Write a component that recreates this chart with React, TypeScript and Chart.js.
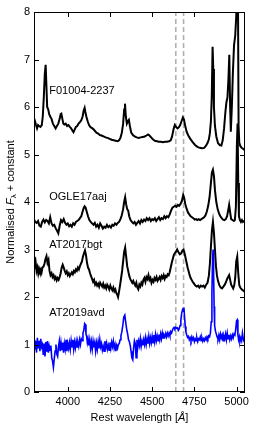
import React, { useEffect, useRef } from "react";
import { Chart, registerables } from "chart.js";

Chart.register(...registerables);

const FONT = '"Liberation Sans", Arial, Helvetica, sans-serif';

const X_MIN = 3800;
const X_MAX = 5050;
const Y_MIN = 0;
const Y_MAX = 8;
const xTicks = [4000, 4250, 4500, 4750, 5000];
const yTicks = [0, 1, 2, 3, 4, 5, 6, 7, 8];
const markerLines = [4640, 4686];

// F01004-2237
const wlF = [3800, 3806, 3812, 3818, 3824, 3830, 3838, 3846, 3852, 3858, 3864, 3869, 3874, 3878, 3884, 3890, 3896, 3904, 3912, 3920, 3928, 3936, 3944, 3952, 3958, 3962, 3968, 3974, 3980, 3988, 3996, 4004, 4012, 4020, 4028, 4034, 4040, 4048, 4056, 4064, 4072, 4080, 4088, 4094, 4100, 4104, 4110, 4118, 4126, 4134, 4142, 4150, 4160, 4170, 4180, 4190, 4200, 4212, 4224, 4236, 4248, 4260, 4272, 4284, 4296, 4304, 4312, 4320, 4328, 4334, 4339, 4344, 4350, 4356, 4362, 4368, 4376, 4386, 4396, 4408, 4420, 4432, 4444, 4456, 4466, 4476, 4484, 4494, 4504, 4516, 4528, 4540, 4552, 4564, 4576, 4588, 4600, 4610, 4618, 4626, 4634, 4642, 4650, 4658, 4666, 4674, 4682, 4688, 4696, 4704, 4714, 4726, 4740, 4754, 4768, 4782, 4796, 4808, 4818, 4828, 4836, 4842, 4848, 4853, 4858, 4862, 4866, 4872, 4880, 4890, 4900, 4910, 4918, 4926, 4934, 4940, 4946, 4952, 4957, 4962, 4966, 4972, 4978, 4985, 4992, 4998, 5004, 5008, 5012, 5016, 5022, 5030, 5038, 5045, 5050];
const fxF = [5.65, 5.70, 5.62, 5.55, 5.62, 5.60, 5.58, 5.62, 5.80, 6.20, 6.70, 6.89, 6.40, 6.00, 5.95, 5.85, 5.80, 5.75, 5.65, 5.60, 5.55, 5.60, 5.65, 5.75, 5.85, 5.86, 5.75, 5.65, 5.63, 5.65, 5.60, 5.62, 5.58, 5.55, 5.50, 5.47, 5.52, 5.58, 5.60, 5.65, 5.68, 5.72, 5.80, 5.92, 5.98, 5.90, 5.80, 5.70, 5.62, 5.58, 5.56, 5.54, 5.50, 5.46, 5.44, 5.41, 5.40, 5.38, 5.36, 5.35, 5.33, 5.31, 5.30, 5.29, 5.28, 5.30, 5.35, 5.45, 5.65, 5.95, 6.07, 5.80, 5.65, 5.70, 5.73, 5.60, 5.46, 5.41, 5.38, 5.36, 5.35, 5.36, 5.37, 5.38, 5.40, 5.42, 5.40, 5.36, 5.32, 5.29, 5.28, 5.27, 5.27, 5.26, 5.27, 5.27, 5.28, 5.30, 5.38, 5.52, 5.62, 5.58, 5.55, 5.57, 5.62, 5.70, 5.78, 5.74, 5.60, 5.48, 5.40, 5.33, 5.26, 5.20, 5.16, 5.14, 5.13, 5.14, 5.18, 5.24, 5.32, 5.45, 5.70, 6.20, 7.27, 6.80, 6.00, 5.60, 5.38, 5.24, 5.20, 5.19, 5.30, 5.55, 5.90, 6.10, 6.20, 6.60, 7.10, 6.00, 5.48, 6.00, 6.70, 7.30, 7.50, 7.90, 8.80, 8.60, 5.60, 5.25, 5.18, 5.14, 5.12, 5.10, 5.10];

// OGLE17aaj
const wlO = [3800, 3808, 3816, 3824, 3832, 3840, 3848, 3856, 3864, 3872, 3880, 3888, 3896, 3904, 3912, 3920, 3928, 3936, 3944, 3952, 3960, 3968, 3976, 3984, 3992, 4000, 4008, 4016, 4024, 4032, 4040, 4048, 4056, 4064, 4072, 4080, 4088, 4094, 4100, 4106, 4112, 4120, 4128, 4136, 4144, 4152, 4160, 4168, 4176, 4184, 4192, 4200, 4208, 4216, 4224, 4232, 4240, 4248, 4256, 4264, 4272, 4280, 4288, 4296, 4304, 4312, 4320, 4328, 4334, 4340, 4346, 4352, 4358, 4364, 4372, 4380, 4388, 4396, 4404, 4412, 4420, 4428, 4436, 4444, 4452, 4460, 4468, 4476, 4484, 4492, 4500, 4508, 4516, 4524, 4532, 4540, 4548, 4556, 4564, 4572, 4580, 4588, 4596, 4604, 4612, 4620, 4628, 4636, 4644, 4652, 4660, 4668, 4676, 4684, 4690, 4696, 4704, 4712, 4720, 4728, 4736, 4744, 4752, 4760, 4768, 4776, 4784, 4792, 4800, 4808, 4816, 4824, 4832, 4840, 4848, 4854, 4860, 4866, 4872, 4880, 4888, 4896, 4904, 4912, 4920, 4928, 4936, 4944, 4950, 4956, 4962, 4968, 4976, 4984, 4990, 4996, 5002, 5006, 5010, 5014, 5020, 5026, 5032, 5038, 5045, 5050];
const fxO = [3.63, 3.58, 3.56, 3.60, 3.50, 3.48, 3.58, 3.63, 3.57, 3.62, 3.60, 3.55, 3.68, 3.55, 3.50, 3.52, 3.45, 3.40, 3.34, 3.50, 3.62, 3.58, 3.64, 3.56, 3.52, 3.55, 3.49, 3.52, 3.48, 3.55, 3.52, 3.58, 3.60, 3.62, 3.66, 3.70, 3.80, 3.87, 3.91, 3.88, 3.80, 3.70, 3.62, 3.58, 3.55, 3.52, 3.56, 3.48, 3.52, 3.46, 3.55, 3.50, 3.44, 3.48, 3.46, 3.52, 3.47, 3.50, 3.46, 3.52, 3.50, 3.55, 3.52, 3.56, 3.58, 3.64, 3.72, 3.85, 4.00, 4.10, 3.95, 3.85, 3.82, 3.70, 3.62, 3.58, 3.55, 3.58, 3.52, 3.56, 3.60, 3.55, 3.62, 3.58, 3.63, 3.60, 3.66, 3.62, 3.66, 3.60, 3.64, 3.62, 3.66, 3.60, 3.64, 3.68, 3.62, 3.66, 3.64, 3.70, 3.66, 3.70, 3.68, 3.74, 3.82, 3.88, 3.90, 3.92, 3.90, 3.94, 3.92, 3.96, 4.02, 4.15, 4.08, 3.96, 3.86, 3.78, 3.74, 3.70, 3.68, 3.66, 3.63, 3.64, 3.62, 3.64, 3.62, 3.64, 3.66, 3.68, 3.72, 3.80, 3.92, 4.10, 4.40, 4.62, 4.68, 4.55, 4.25, 4.00, 3.85, 3.76, 3.70, 3.66, 3.63, 3.62, 3.64, 3.70, 3.82, 3.94, 3.78, 3.64, 3.62, 3.60, 3.62, 3.90, 5.20, 5.65, 4.40, 3.70, 3.62, 3.58, 3.62, 3.58, 3.60, 3.60];

// AT2017bgt
const wlA = [3800, 3805, 3810, 3815, 3820, 3825, 3830, 3835, 3840, 3845, 3850, 3856, 3862, 3868, 3874, 3880, 3886, 3892, 3898, 3904, 3910, 3916, 3922, 3928, 3934, 3940, 3946, 3952, 3958, 3964, 3970, 3976, 3982, 3988, 3994, 4000, 4006, 4012, 4018, 4024, 4030, 4036, 4042, 4048, 4054, 4060, 4066, 4072, 4078, 4084, 4090, 4096, 4102, 4108, 4114, 4120, 4126, 4132, 4138, 4144, 4150, 4156, 4162, 4168, 4174, 4180, 4186, 4192, 4198, 4204, 4210, 4216, 4222, 4228, 4234, 4240, 4246, 4252, 4258, 4264, 4270, 4276, 4282, 4288, 4294, 4298, 4304, 4310, 4316, 4322, 4328, 4334, 4340, 4346, 4352, 4358, 4364, 4370, 4376, 4382, 4388, 4394, 4400, 4406, 4412, 4418, 4424, 4430, 4436, 4442, 4448, 4454, 4460, 4466, 4472, 4478, 4484, 4490, 4496, 4502, 4508, 4514, 4520, 4526, 4532, 4538, 4544, 4550, 4556, 4562, 4568, 4574, 4580, 4586, 4592, 4598, 4604, 4610, 4616, 4622, 4628, 4634, 4640, 4648, 4656, 4664, 4672, 4680, 4686, 4692, 4698, 4704, 4710, 4716, 4722, 4728, 4734, 4740, 4748, 4756, 4764, 4772, 4780, 4788, 4796, 4804, 4812, 4820, 4828, 4836, 4842, 4848, 4854, 4860, 4866, 4872, 4878, 4884, 4890, 4898, 4906, 4914, 4922, 4930, 4938, 4944, 4950, 4956, 4962, 4968, 4974, 4980, 4986, 4992, 4998, 5004, 5010, 5016, 5022, 5030, 5038, 5045, 5050];
const fxA = [2.85, 2.65, 2.72, 2.55, 2.62, 2.50, 2.60, 2.54, 2.58, 2.52, 2.62, 2.64, 2.70, 2.80, 2.86, 2.72, 2.78, 2.55, 2.46, 2.50, 2.42, 2.46, 2.38, 2.42, 2.35, 2.40, 2.36, 2.42, 2.50, 2.62, 2.68, 2.62, 2.55, 2.50, 2.54, 2.46, 2.50, 2.44, 2.48, 2.52, 2.48, 2.55, 2.52, 2.58, 2.55, 2.62, 2.58, 2.65, 2.70, 2.75, 2.85, 2.92, 2.98, 2.88, 2.72, 2.62, 2.58, 2.50, 2.44, 2.38, 2.32, 2.36, 2.26, 2.30, 2.24, 2.28, 2.22, 2.30, 2.26, 2.22, 2.28, 2.20, 2.24, 2.18, 2.26, 2.22, 2.16, 2.24, 2.18, 2.14, 2.20, 2.12, 2.16, 2.08, 2.04, 2.00, 2.12, 2.25, 2.40, 2.55, 2.75, 2.95, 3.04, 2.85, 2.65, 2.55, 2.45, 2.38, 2.34, 2.30, 2.34, 2.28, 2.24, 2.30, 2.20, 2.16, 2.26, 2.22, 2.30, 2.26, 2.36, 2.40, 2.32, 2.42, 2.38, 2.46, 2.36, 2.40, 2.30, 2.36, 2.32, 2.40, 2.36, 2.42, 2.34, 2.38, 2.42, 2.36, 2.44, 2.40, 2.46, 2.38, 2.44, 2.42, 2.48, 2.46, 2.52, 2.62, 2.72, 2.80, 2.88, 2.92, 2.95, 3.00, 2.94, 2.90, 2.92, 2.98, 3.00, 2.92, 2.82, 2.72, 2.62, 2.54, 2.46, 2.40, 2.36, 2.32, 2.28, 2.24, 2.22, 2.24, 2.20, 2.24, 2.22, 2.24, 2.20, 2.26, 2.30, 2.45, 2.70, 3.05, 3.40, 3.58, 3.35, 3.00, 2.65, 2.45, 2.34, 2.25, 2.20, 2.18, 2.22, 2.26, 2.32, 2.38, 2.42, 2.46, 2.36, 2.26, 2.22, 2.18, 2.24, 2.40, 2.75, 2.85, 2.50, 2.25, 2.20, 2.16, 2.14, 2.12, 2.12];

// AT2019avd
const wlB = [3800, 3805, 3810, 3815, 3820, 3825, 3830, 3835, 3840, 3845, 3850, 3855, 3860, 3865, 3870, 3875, 3880, 3885, 3890, 3895, 3900, 3905, 3910, 3915, 3920, 3925, 3930, 3935, 3940, 3945, 3950, 3955, 3960, 3965, 3970, 3975, 3980, 3985, 3990, 3995, 4000, 4005, 4010, 4015, 4020, 4025, 4030, 4035, 4040, 4045, 4050, 4055, 4060, 4065, 4070, 4075, 4080, 4085, 4090, 4095, 4100, 4104, 4108, 4112, 4116, 4120, 4125, 4130, 4135, 4140, 4145, 4150, 4155, 4160, 4165, 4170, 4175, 4180, 4185, 4190, 4195, 4200, 4205, 4210, 4215, 4220, 4225, 4230, 4235, 4240, 4245, 4250, 4255, 4260, 4265, 4270, 4275, 4280, 4285, 4290, 4295, 4300, 4305, 4310, 4315, 4320, 4326, 4332, 4338, 4344, 4350, 4355, 4360, 4365, 4370, 4375, 4380, 4385, 4390, 4395, 4400, 4405, 4410, 4415, 4420, 4425, 4430, 4435, 4440, 4445, 4450, 4455, 4460, 4465, 4470, 4475, 4480, 4485, 4490, 4495, 4500, 4505, 4510, 4515, 4520, 4525, 4530, 4535, 4540, 4545, 4550, 4555, 4560, 4565, 4570, 4575, 4580, 4585, 4590, 4595, 4600, 4605, 4610, 4615, 4620, 4625, 4630, 4635, 4640, 4645, 4650, 4655, 4660, 4665, 4670, 4675, 4680, 4684, 4688, 4692, 4696, 4700, 4705, 4710, 4715, 4720, 4725, 4730, 4735, 4740, 4745, 4750, 4755, 4760, 4765, 4770, 4775, 4780, 4785, 4790, 4795, 4800, 4805, 4810, 4815, 4820, 4825, 4830, 4835, 4840, 4845, 4850, 4854, 4858, 4861, 4864, 4867, 4870, 4875, 4880, 4885, 4890, 4895, 4900, 4905, 4910, 4915, 4920, 4925, 4930, 4935, 4940, 4945, 4950, 4955, 4960, 4965, 4970, 4975, 4980, 4985, 4990, 4995, 5000, 5004, 5008, 5012, 5016, 5020, 5025, 5030, 5035, 5040, 5045, 5050];
const fxB = [1.10, 0.89, 1.07, 0.83, 1.14, 0.92, 1.08, 0.86, 1.12, 0.95, 1.00, 0.78, 1.02, 0.75, 1.05, 0.85, 1.07, 0.83, 0.97, 0.88, 0.98, 0.72, 0.65, 0.52, 0.70, 0.86, 1.00, 0.80, 0.75, 0.95, 1.07, 0.86, 1.04, 0.88, 1.04, 0.83, 1.02, 0.90, 1.10, 0.86, 1.02, 0.92, 1.04, 0.90, 1.08, 0.94, 1.10, 0.90, 1.05, 0.93, 1.07, 0.95, 1.04, 0.96, 1.10, 1.00, 1.12, 1.08, 1.24, 1.30, 1.44, 1.42, 1.22, 1.17, 1.04, 1.12, 0.98, 1.10, 0.92, 1.06, 0.90, 1.07, 0.94, 1.04, 0.86, 1.03, 0.90, 1.06, 0.92, 1.10, 0.95, 1.02, 0.88, 0.96, 0.86, 1.07, 0.94, 1.03, 0.90, 0.98, 0.88, 1.04, 0.92, 1.05, 0.96, 1.07, 0.92, 1.00, 0.86, 0.98, 0.92, 1.00, 1.02, 1.10, 1.18, 1.26, 1.40, 1.58, 1.62, 1.45, 1.30, 1.22, 1.10, 1.06, 0.98, 0.86, 0.72, 0.68, 0.92, 1.08, 1.02, 0.72, 1.10, 0.94, 1.07, 0.98, 1.12, 0.96, 1.07, 0.98, 1.10, 1.00, 1.14, 1.00, 1.12, 1.02, 1.17, 1.02, 1.14, 1.04, 1.17, 1.04, 1.20, 1.06, 1.21, 1.08, 1.18, 1.08, 1.21, 1.10, 1.22, 1.12, 1.24, 1.14, 1.20, 1.16, 1.23, 1.16, 1.24, 1.18, 1.24, 1.18, 1.27, 1.24, 1.30, 1.34, 1.36, 1.33, 1.36, 1.34, 1.35, 1.30, 1.33, 1.40, 1.52, 1.66, 1.73, 1.70, 1.78, 1.58, 1.38, 1.26, 1.20, 1.15, 1.17, 1.10, 1.14, 1.08, 1.16, 1.10, 1.14, 1.06, 1.12, 1.08, 1.14, 1.06, 1.12, 1.10, 1.16, 1.08, 1.14, 1.07, 1.12, 1.08, 1.14, 1.10, 1.16, 1.12, 1.18, 1.16, 1.24, 1.48, 2.10, 2.80, 3.00, 2.50, 1.80, 1.40, 1.28, 1.22, 1.16, 1.12, 1.20, 1.10, 1.22, 1.14, 1.20, 1.08, 1.18, 1.12, 1.22, 1.10, 1.24, 1.12, 1.20, 1.10, 1.18, 1.12, 1.20, 1.14, 1.22, 1.20, 1.32, 1.50, 1.52, 1.20, 1.10, 1.16, 1.06, 1.14, 1.08, 1.24, 1.12, 1.06, 1.06];

const seriesNames = ["F01004-2237", "OGLE17aaj", "AT2017bgt", "AT2019avd"];
const labelX = [3890, 3890, 3890, 3890];
const labelY = [6.34, 4.1, 3.09, 1.66];

const toPts = (wl: number[], fx: number[]) => wl.map((x, i) => ({ x, y: fx[i] }));

const decorPlugin = {
  id: "decor",
  beforeDatasetsDraw(chart: any) {
    const { ctx, chartArea: a, scales } = chart;
    const x = scales.x;
    ctx.save();
    ctx.strokeStyle = "#b0b0b0";
    ctx.lineWidth = 1.6;
    ctx.setLineDash([5, 3]);
    markerLines.forEach((v) => {
      const px = x.getPixelForValue(v);
      ctx.beginPath();
      ctx.moveTo(px, a.bottom);
      ctx.lineTo(px, a.top);
      ctx.stroke();
    });
    ctx.restore();
  },
  afterDatasetsDraw(chart: any) {
    const { ctx, chartArea: a, scales } = chart;
    const x = scales.x;
    const y = scales.y;
    ctx.save();
    // labels
    ctx.fillStyle = "#000";
    ctx.font = `11px ${FONT}`;
    ctx.textAlign = "left";
    ctx.textBaseline = "middle";
    seriesNames.forEach((name, i) => {
      ctx.fillText(name, x.getPixelForValue(labelX[i]), y.getPixelForValue(labelY[i]));
    });
    // frame
    ctx.strokeStyle = "#000";
    ctx.lineWidth = 1;
    ctx.setLineDash([]);
    ctx.strokeRect(a.left + 0.5, a.top + 0.5, a.right - a.left - 1, a.bottom - a.top - 1);
    // ticks inward on all sides
    const tl = 5;
    ctx.beginPath();
    xTicks.forEach((v) => {
      const px = Math.round(x.getPixelForValue(v)) + 0.5;
      ctx.moveTo(px, a.bottom);
      ctx.lineTo(px, a.bottom - tl);
      ctx.moveTo(px, a.top);
      ctx.lineTo(px, a.top + tl);
    });
    yTicks.forEach((v) => {
      const py = Math.round(y.getPixelForValue(v)) + 0.5;
      ctx.moveTo(a.left, py);
      ctx.lineTo(a.left + tl, py);
      ctx.moveTo(a.right, py);
      ctx.lineTo(a.right - tl, py);
    });
    ctx.stroke();
    // x title
    const xt1 = "Rest wavelength [";
    const xt2 = "Å";
    const xt3 = "]";
    const nf = `11px ${FONT}`;
    const itf = `italic 11px ${FONT}`;
    ctx.textBaseline = "alphabetic";
    ctx.font = nf;
    const w1 = ctx.measureText(xt1).width;
    const w3 = ctx.measureText(xt3).width;
    ctx.font = itf;
    const w2 = ctx.measureText(xt2).width;
    const cx = (a.left + a.right) / 2;
    let sx = cx - (w1 + w2 + w3) / 2;
    const by = 421;
    ctx.font = nf;
    ctx.fillText(xt1, sx, by);
    sx += w1;
    ctx.font = itf;
    ctx.fillText(xt2, sx, by);
    sx += w2;
    ctx.font = nf;
    ctx.fillText(xt3, sx, by);
    // y title (rotated)
    const yt1 = "Normalised ";
    const yt2 = "F";
    const yt3 = "λ";
    const yt4 = " + constant";
    const subf = `8px ${FONT}`;
    ctx.font = nf;
    const v1 = ctx.measureText(yt1).width;
    const v4 = ctx.measureText(yt4).width;
    ctx.font = itf;
    const v2 = ctx.measureText(yt2).width;
    ctx.font = subf;
    const v3 = ctx.measureText(yt3).width;
    ctx.translate(13.5, (a.top + a.bottom) / 2);
    ctx.rotate(-Math.PI / 2);
    let tx = -(v1 + v2 + v3 + v4) / 2;
    ctx.font = nf;
    ctx.fillText(yt1, tx, 0);
    tx += v1;
    ctx.font = itf;
    ctx.fillText(yt2, tx, 0);
    tx += v2;
    ctx.font = subf;
    ctx.fillText(yt3, tx, 2.5);
    tx += v3;
    ctx.font = nf;
    ctx.fillText(yt4, tx, 0);
    ctx.restore();
  },
};

export default function App() {
  const ref = useRef<HTMLCanvasElement | null>(null);
  useEffect(() => {
    if (!ref.current) return;
    Chart.defaults.font.family = FONT;
    const lineDs = (label: string, wl: number[], fx: number[], color: string, w: number) => ({
      label,
      data: toPts(wl, fx),
      borderColor: color,
      backgroundColor: color,
      borderWidth: w,
      pointRadius: 0,
      tension: 0,
      fill: false,
    });
    const chart = new Chart(ref.current, {
      type: "line",
      data: {
        datasets: [
          lineDs(seriesNames[3], wlB, fxB, "#0000ff", 1.6),
          lineDs(seriesNames[2], wlA, fxA, "#000000", 2),
          lineDs(seriesNames[1], wlO, fxO, "#000000", 2),
          lineDs(seriesNames[0], wlF, fxF, "#000000", 2),
        ],
      },
      options: {
        animation: false,
        responsive: false,
        devicePixelRatio: 1,
        layout: { padding: { top: 12, right: 12, left: 0, bottom: 0 } },
        plugins: { legend: { display: false }, tooltip: { enabled: false } },
        scales: {
          x: {
            type: "linear",
            min: X_MIN,
            max: X_MAX,
            grid: { display: false, drawTicks: false },
            border: { display: false },
            afterBuildTicks: (s: any) => {
              s.ticks = xTicks.map((v) => ({ value: v }));
            },
            afterFit: (s: any) => {
              s.height = 42;
            },
            ticks: {
              color: "#000",
              font: { size: 11, family: FONT },
              padding: 3,
              maxRotation: 0,
              autoSkip: false,
              callback: (v: any) => String(v),
            },
          },
          y: {
            type: "linear",
            min: Y_MIN,
            max: Y_MAX,
            grid: { display: false, drawTicks: false },
            border: { display: false },
            afterBuildTicks: (s: any) => {
              s.ticks = yTicks.map((v) => ({ value: v }));
            },
            afterFit: (s: any) => {
              s.width = 34;
            },
            ticks: {
              color: "#000",
              font: { size: 11, family: FONT },
              padding: 4,
              callback: (v: any) => String(v),
            },
          },
        },
      },
      plugins: [decorPlugin],
    });
    return () => chart.destroy();
  }, []);
  return (
    <div style={{ position: "fixed", left: 0, top: 0, width: 257, height: 434, background: "#fff" }}>
      <canvas ref={ref} width={257} height={434} style={{ display: "block" }} />
    </div>
  );
}
